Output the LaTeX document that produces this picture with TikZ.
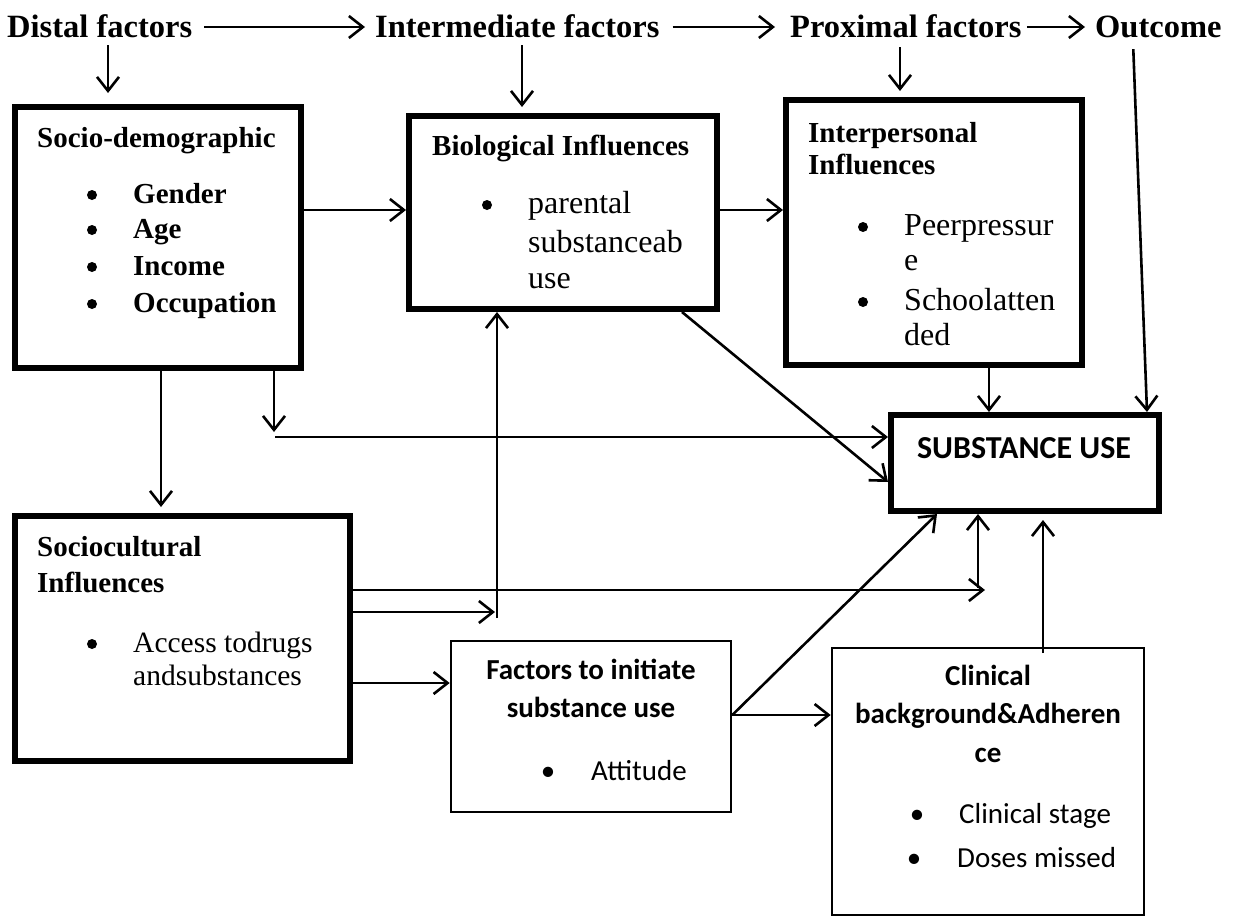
\documentclass[tikz,border=0pt]{standalone}
\usepackage{fontspec}
\setmainfont{Liberation Serif}
\newfontfamily\calfont{Carlito}
\usetikzlibrary{arrows.meta}
\begin{document}
\begin{tikzpicture}[x=1pt,y=-1pt,
  conn/.style={line width=2.6pt,-{Straight Barb[length=14pt,width=22pt]}},
  thickbox/.style={draw,line width=6pt,inner sep=0pt},
  thinbox/.style={draw,line width=2.6pt,inner sep=0pt},
  hdr/.style={anchor=west,inner sep=0pt,text height=24pt,text depth=4pt,font=\fontsize{32.5}{38}\selectfont\bfseries},
  txt/.style={anchor=base west,inner sep=0pt,font=\fontsize{32}{38}\selectfont},
  stxt/.style={anchor=base west,inner sep=0pt,font=\fontsize{29.5}{35}\selectfont},
  btxt/.style={anchor=base west,inner sep=0pt,font=\fontsize{29}{35}\selectfont\bfseries},
  dot/.style={circle,fill,inner sep=0pt,minimum size=10pt},
  ctxt/.style={anchor=base west,inner sep=0pt,font=\calfont\fontsize{29}{35}\selectfont},
  cbtxt/.style={anchor=base,inner sep=0pt,font=\calfont\fontsize{29}{35}\selectfont\bfseries},
  cbul/.style={anchor=base,inner sep=0pt,font=\calfont\fontsize{29}{35}\selectfont}]
\useasboundingbox (0,0) rectangle (1235,918);
\fill[white] (0,0) rectangle (1235,918);

% headers
\node[hdr] (hd) at (7,27) {Distal factors};
\node[hdr] (hi) at (375,27) {Intermediate factors};
\node[hdr] (hp) at (790,27) {Proximal factors};
\node[hdr] (ho) at (1095,27) {Outcome};
\draw[conn,shorten <=12pt,shorten >=10pt] (hd) -- (hi);
\draw[conn,shorten <=13pt,shorten >=15pt] (hi) -- (hp);
\draw[conn,shorten <=5pt,shorten >=10pt] (hp) -- (ho);

% boxes
\node[thickbox,minimum width=286pt,minimum height=261pt] (b1) at (158,237.5) {};
\node[thickbox,minimum width=308pt,minimum height=193pt] (b2) at (563,212.5) {};
\node[thickbox,minimum width=296pt,minimum height=265pt] (b3) at (934,232.5) {};
\node[thickbox,minimum width=335pt,minimum height=245pt] (b4) at (182.5,638.5) {};
\node[thickbox,minimum width=268pt,minimum height=96pt] (su) at (1025,463) {};
\node[thinbox,minimum width=280pt,minimum height=171pt] (fac) at (591,726.5) {};
\node[thinbox,minimum width=312pt,minimum height=267pt] (cl) at (988,781.5) {};

% box 1 text
\node[btxt] (t1) at (37,147) {Socio-demographic};
\node[dot] (t1b1) at (92,195) {};
\node[dot] (t1b2) at (92,230) {};
\node[dot] (t1b3) at (92,267) {};
\node[dot] (t1b4) at (92,304) {};
\node[btxt] (t1i1) at (133,203) {Gender};
\node[btxt] (t1i2) at (133,238) {Age};
\node[btxt] (t1i3) at (133,275) {Income};
\node[btxt] (t1i4) at (133,312) {Occupation};

% box 2 text
\node[btxt] (t2) at (432,155) {Biological Influences};
\node[dot] (t2b1) at (487,205) {};
\node[txt] (t2l1) at (528,213) {parental};
\node[txt] (t2l2) at (528,252) {substanceab};
\node[txt] (t2l3) at (528,288) {use};

% box 3 text
\node[btxt] (t3a) at (808,142) {Interpersonal};
\node[btxt] (t3b) at (808,174) {Influences};
\node[dot] (t3b1) at (863,227) {};
\node[dot] (t3b2) at (863,302) {};
\node[txt] (t3l1) at (904,235) {Peerpressur};
\node[txt] (t3l2) at (904,270) {e};
\node[txt] (t3l3) at (904,310) {Schoolatten};
\node[txt] (t3l4) at (904,345) {ded};

% box 4 text
\node[btxt] (t4a) at (37,556) {Sociocultural};
\node[btxt] (t4b) at (37,592) {Influences};
\node[dot] (t4b1) at (92,644) {};
\node[stxt] (t4l1) at (133,652) {Access todrugs};
\node[stxt] (t4l2) at (133,685) {andsubstances};

% substance use
\node[anchor=base,inner sep=0pt,font=\calfont\fontsize{32}{38}\selectfont\bfseries] (sut) at (1024,458) {SUBSTANCE USE};

% factors box text
\node[cbtxt] (f1) at (591,679) {Factors to initiate};
\node[cbtxt] (f2) at (591,717) {substance use};
\node[cbul] (fb1) at (548,780) {•};
\node[ctxt] (f3) at (591,780) {Attitude};

% clinical box text
\node[cbtxt] (c1) at (988,685) {Clinical};
\node[cbtxt] (c2) at (988,723) {background\&Adheren};
\node[cbtxt] (c3) at (988,762) {ce};
\node[cbul] (cb1) at (917,823) {•};
\node[cbul] (cb2) at (914,867) {•};
\node[ctxt] (c4) at (959,823) {Clinical stage};
\node[ctxt] (c5) at (957,867) {Doses missed};

% helper coordinates
\coordinate (x108) at (108,0);
\coordinate (x522) at (522,0);
\coordinate (x900) at (900,0);
\coordinate (x1133) at (1133,0);
\coordinate (x1147) at (1147,0);
\coordinate (y210) at (0,210);
\coordinate (x161) at (161,0);
\coordinate (x274) at (274,0);
\coordinate (p274) at (274,432);
\coordinate (q437) at (275,437);
\coordinate (x682) at (682,0);
\coordinate (y482) at (0,482);
\coordinate (x989) at (989,0);
\coordinate (y590) at (0,590);
\coordinate (p985) at (985,590);
\coordinate (p978) at (978,588);
\coordinate (y612) at (0,612);
\coordinate (p495) at (495,612);
\coordinate (p497) at (497,618);
\coordinate (y683) at (0,683);
\coordinate (y715) at (0,715);
\coordinate (x937) at (937,0);
\coordinate (p1043) at (1043,653);

% header down arrows
\draw[conn,shorten <=4pt,shorten >=11pt] (hd.south -| x108) -- (b1.north -| x108);
\draw[conn,shorten <=4pt,shorten >=6pt] (hi.south -| x522) -- (b2.north -| x522);
\draw[conn,shorten <=6pt,shorten >=6pt] (hp.south -| x900) -- (b3.north -| x900);
\draw[conn,shorten <=8pt] (ho.south -| x1133) -- (su.north -| x1147);

% connectors
\draw[conn] (b1.east |- y210) -- (b2.west |- y210);
\draw[conn] (b2.east |- y210) -- (b3.west |- y210);
\draw[conn,shorten >=6pt] (b1.south -| x161) -- (b4.north -| x161);
\draw[conn] (b1.south -| x274) -- (p274);
\draw[conn] (q437) -- (su.west |- q437);
\draw[conn] (b2.south -| x682) -- (su.west |- y482);
\draw[conn] (b3.south -| x989) -- (su.north -| x989);
\draw[conn] (b4.east |- y590) -- (p985);
\draw[conn] (p978) -- (su.south -| p978);
\draw[conn] (b4.east |- y612) -- (p495);
\draw[conn] (p497) -- (b2.south -| p497);
\draw[conn] (b4.east |- y683) -- (fac.west |- y683);
\draw[conn] (fac.east |- y715) -- (su.south -| x937);
\draw[conn] (fac.east |- y715) -- (cl.west |- y715);
\draw[conn,shorten >=6pt] (p1043) -- (su.south -| p1043);
\end{tikzpicture}
\end{document}
